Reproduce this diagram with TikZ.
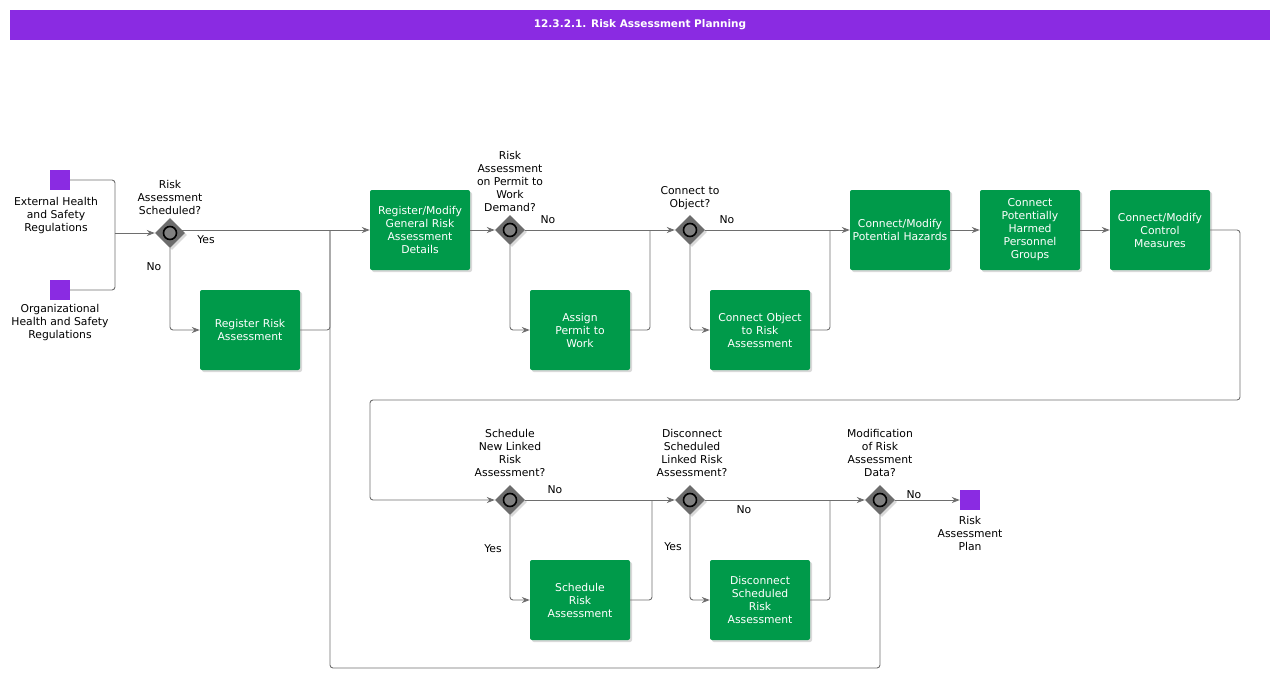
\documentclass[tikz,border=0pt]{standalone}
\usepackage{fontspec}
\setmainfont{DejaVu Sans}
\usetikzlibrary{shapes.geometric,arrows.meta,shadows}
\definecolor{pur}{HTML}{8A2BE2}
\definecolor{grn}{HTML}{009A4A}
\definecolor{ln}{HTML}{6E6E6E}
\begin{document}
\begin{tikzpicture}[x=1pt,y=-1pt,
  font=\fontsize{10.8}{13}\selectfont,
  box/.style={draw=none,fill=grn,rounded corners=2pt,minimum width=100pt,minimum height=80pt,inner sep=2pt,text width=96pt,align=center,text=white,drop shadow={shadow xshift=2pt,shadow yshift=-2pt,opacity=0.3}},
  gw/.style={diamond,fill=gray!85!black,minimum width=30pt,minimum height=30pt,inner sep=0pt,drop shadow={shadow xshift=2pt,shadow yshift=-2pt,opacity=0.3}},
  ev/.style={fill=pur,minimum size=20pt,inner sep=0pt},
  lab/.style={align=center,inner sep=0pt},
  con/.style={draw=ln,line width=0.9pt,rounded corners=3pt,-{Stealth[length=8pt,width=6pt]}},
  pl/.style={draw=ln,line width=0.9pt,rounded corners=3pt}]
\useasboundingbox (0,0) rectangle (1280,699);
\fill[pur] (10,10) rectangle (1270,40);
\node[text=white,font=\fontsize{10.5}{10}\selectfont\bfseries] (title) at (640,25) {12.3.2.1. Risk Assessment Planning};
% events
\node[ev] (s1) at (60,180) {};
\node[ev] (s2) at (60,290) {};
\node[ev] (e1) at (970,500) {};
\node[lab] (s1l) at (56,216) {External Health\\and Safety\\Regulations};
\node[lab] (s2l) at (60,323) {Organizational\\Health and Safety\\Regulations};
\node[lab] (e1l) at (970,533) {Risk\\Assessment\\Plan};
% gateways
\foreach \n/\x/\y in {g1/170/233,g2/510/230,g3/690/230,g4/510/500,g5/690/500,g6/880/500}{
  \node[gw] (\n) at (\x,\y) {};
  \draw[line width=1.6pt,fill=gray] (\x,\y) circle (6.5pt);
}
\node[lab] (g1l) at (170,197) {Risk\\Assessment\\Scheduled?};
\node[lab] (g2l) at (510,181) {Risk\\Assessment\\on Permit to\\Work\\Demand?};
\node[lab] (g3l) at (690,198) {Connect to\\Object?};
\node[lab] (g4l) at (510,453) {Schedule\\New Linked\\Risk\\Assessment?};
\node[lab] (g5l) at (692,453) {Disconnect\\Scheduled\\Linked Risk\\Assessment?};
\node[lab] (g6l) at (880,453) {Modification\\of Risk\\Assessment\\Data?};
% boxes
\node[box] (b1) at (250,330) {Register Risk\\Assessment};
\node[box] (b2) at (420,230) {Register/Modify\\General Risk\\Assessment\\Details};
\node[box] (b3) at (580,330) {Assign\\Permit to\\Work};
\node[box] (b4) at (760,330) {Connect Object\\to Risk\\Assessment};
\node[box] (b5) at (900,230) {Connect/Modify\\Potential Hazards};
\node[box] (b6) at (1030,230) {Connect\\Potentially\\Harmed\\Personnel\\Groups};
\node[box] (b7) at (1160,230) {Connect/Modify\\Control\\Measures};
\node[box] (b8) at (580,600) {Schedule\\Risk\\Assessment};
\node[box] (b9) at (760,600) {Disconnect\\Scheduled\\Risk\\Assessment};
% connectors
\coordinate (j0) at (115,233);
\draw[pl] (s1.east) -| (j0);
\draw[pl] (s2.east) -| (j0);
\draw[con] (j0) -- (g1.west);
\coordinate (g1o) at (180,230);
\draw[con] (g1o) -- (b2.west);
\draw[con] (g1.south) |- (b1.west);
\coordinate (j1) at (330,230);
\draw[pl] (b1.east) -| (j1);
\draw[pl] (g6.south) |- (330,668) -- (j1);
\draw[con] (g2.east) -- (g3.west);
\draw[con] (g2.south) |- (b3.west);
\draw[pl] (b3.east) -| (650,230);
\draw[con] (g3.east) -- (b5.west);
\draw[con] (g3.south) |- (b4.west);
\draw[pl] (b4.east) -| (830,230);
\draw[con] (b2.east) -- (g2.west);
\draw[con] (b5.east) -- (b6.west);
\draw[con] (b6.east) -- (b7.west);
\draw[con] (b7.east) -| (1240,400) -| (370,500) -- (g4.west);
\draw[con] (g4.east) -- (g5.west);
\draw[con] (g4.south) |- (b8.west);
\draw[pl] (b8.east) -| (652,500);
\draw[con] (g5.east) -- (g6.west);
\draw[con] (g5.south) |- (b9.west);
\draw[pl] (b9.east) -| (830,500);
\draw[con] (g6.east) -- (e1.west);
% branch labels
\node (y1) at (206,240) {Yes};
\node (n1) at (154,267) {No};
\node (n2) at (548,220) {No};
\node (n3) at (727,220) {No};
\node (n4) at (555,490) {No};
\node (y4) at (493,549) {Yes};
\node (n5) at (744,510) {No};
\node (y5) at (673,547) {Yes};
\node (n6) at (914,495) {No};
\end{tikzpicture}
\end{document}
